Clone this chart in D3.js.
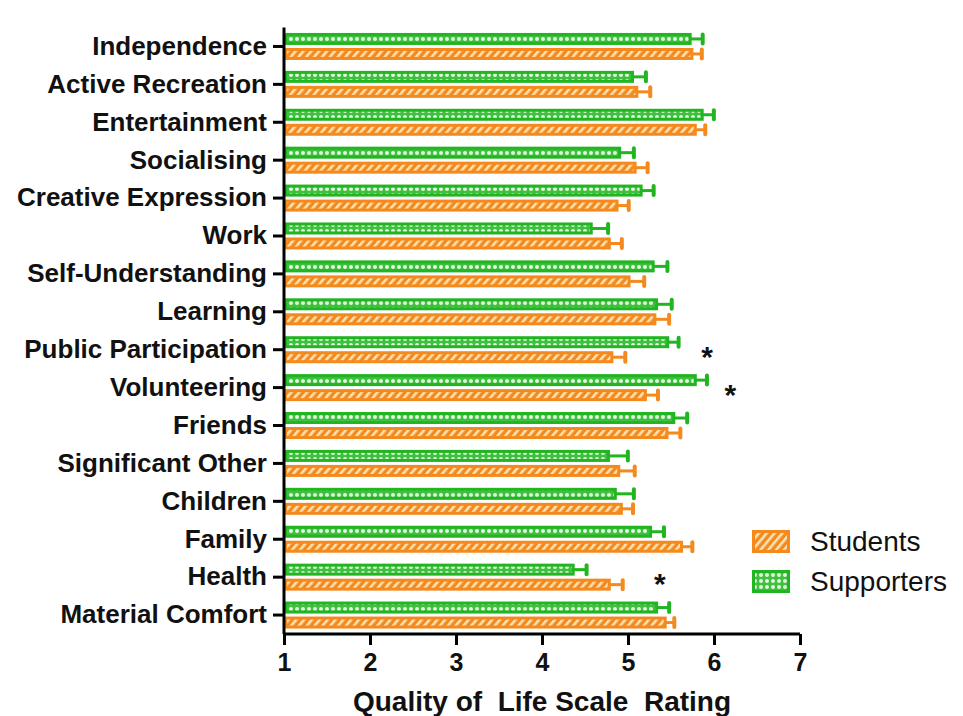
<!DOCTYPE html>
<html>
<head>
<meta charset="utf-8">
<script src="https://cdnjs.cloudflare.com/ajax/libs/d3/7.8.5/d3.min.js"></script>
<style>
body { margin: 0; background: #fff; }
text { font-family: "Liberation Sans", Arial, sans-serif; }
</style>
</head>
<body>
<script>
// data
var categories = ["Independence", "Active Recreation", "Entertainment", "Socialising",
    "Creative Expression", "Work", "Self-Understanding", "Learning", "Public Participation",
    "Volunteering", "Friends", "Significant Other", "Children", "Family", "Health", "Material Comfort"];
var students = [5.76, 5.12, 5.80, 5.10, 4.89, 4.80, 5.03, 5.33, 4.83, 5.22, 5.47, 4.91, 4.94, 5.64, 4.80, 5.45];
var studentsErr = [0.11, 0.15, 0.11, 0.14, 0.13, 0.14, 0.17, 0.16, 0.15, 0.14, 0.15, 0.18, 0.13, 0.12, 0.15, 0.10];
var supporters = [5.74, 5.07, 5.88, 4.92, 5.17, 4.59, 5.31, 5.35, 5.48, 5.80, 5.55, 4.79, 4.87, 5.28, 4.38, 5.35];
var supportersErr = [0.14, 0.15, 0.13, 0.16, 0.14, 0.19, 0.16, 0.17, 0.12, 0.13, 0.15, 0.22, 0.21, 0.15, 0.15, 0.14];
var xTicks = [1, 2, 3, 4, 5, 6, 7];
var stars = [
    { category: "Public Participation", value: 5.92 },
    { category: "Volunteering", value: 6.19 },
    { category: "Health", value: 5.37 }
];
var seriesNames = ["Students", "Supporters"];

var green = "#22b522";
var orange = "#f48a1e";

var svg = d3.select("body")
    .append("svg")
    .attr("width", 963)
    .attr("height", 716);

// patterns
var defs = svg.append("defs");
var hatch = defs.append("pattern")
    .attr("id", "hatch")
    .attr("patternUnits", "userSpaceOnUse")
    .attr("width", 6).attr("height", 6)
    .attr("patternTransform", "rotate(40)");
hatch.append("rect").attr("width", 6).attr("height", 6).attr("fill", orange);
hatch.append("rect").attr("width", 2.6).attr("height", 6).attr("fill", "#fde2b4");

var dots = defs.append("pattern")
    .attr("id", "dots")
    .attr("patternUnits", "userSpaceOnUse")
    .attr("width", 6).attr("height", 6);
dots.append("rect").attr("width", 6).attr("height", 6).attr("fill", "#3fc03f");
dots.append("circle").attr("cx", 3).attr("cy", 3).attr("r", 2).attr("fill", "#dff7da");

// scales
var x = d3.scaleLinear().domain([1, 7]).range([284, 800]);
var y = d3.scaleBand().domain(categories).range([27.5, 634]);

var groups = [
    { name: "Supporters", values: supporters, err: supportersErr, color: green, fill: "url(#dots)", off: -13.5 },
    { name: "Students", values: students, err: studentsErr, color: orange, fill: "url(#hatch)", off: 1.5 }
];

groups.forEach(function (g) {
    var bh = 12;
    // error bars
    var eb = svg.append("g");
    eb.selectAll("line.e")
        .data(categories)
        .enter().append("line")
        .attr("x1", function (d, i) { return x(g.values[i]) - 2; })
        .attr("x2", function (d, i) { return x(g.values[i] + g.err[i]); })
        .attr("y1", function (d) { return y(d) + y.bandwidth() / 2 + g.off + bh / 2; })
        .attr("y2", function (d) { return y(d) + y.bandwidth() / 2 + g.off + bh / 2; })
        .attr("stroke", g.color)
        .attr("stroke-width", 3);
    eb.selectAll("line.c")
        .data(categories)
        .enter().append("line")
        .attr("x1", function (d, i) { return x(g.values[i] + g.err[i]) - 1; })
        .attr("x2", function (d, i) { return x(g.values[i] + g.err[i]) - 1; })
        .attr("y1", function (d) { return y(d) + y.bandwidth() / 2 + g.off + 1.5; })
        .attr("y2", function (d) { return y(d) + y.bandwidth() / 2 + g.off + bh - 1.5; })
        .attr("stroke", g.color)
        .attr("stroke-width", 4)
        .attr("stroke-linecap", "round");

    // bars
    svg.append("g").selectAll("rect")
        .data(categories)
        .enter().append("rect")
        .attr("x", x(1) + 1.5)
        .attr("y", function (d) { return y(d) + y.bandwidth() / 2 + g.off + 1.5; })
        .attr("width", function (d, i) { return x(g.values[i]) - x(1) - 3; })
        .attr("height", bh - 3)
        .attr("fill", g.fill)
        .attr("stroke", g.color)
        .attr("stroke-width", 3);
});

// axes
var xAxis = svg.append("g")
    .attr("transform", "translate(0,634)")
    .call(d3.axisBottom(x).tickValues(xTicks).tickFormat(d3.format("d")).tickSize(11).tickPadding(8));
var yAxis = svg.append("g")
    .attr("transform", "translate(284,0)")
    .call(d3.axisLeft(y).tickSize(11).tickPadding(6));

[xAxis, yAxis].forEach(function (a) {
    a.select(".domain").attr("stroke", "#000").attr("stroke-width", 3);
    a.selectAll(".tick line").attr("stroke", "#000").attr("stroke-width", 3);
    a.selectAll(".tick text")
        .attr("fill", "#111")
        .style("font-family", "'Liberation Sans', Arial, sans-serif")
        .style("font-weight", "bold")
        .style("font-size", "26px");
});
xAxis.selectAll(".tick text").style("font-size", "25px");
xAxis.select(".domain").attr("d", "M" + x(1) + ",0H" + x(7));
yAxis.select(".domain").attr("d", "M0,27.5V634");

// x title
svg.append("text")
    .attr("x", 542)
    .attr("y", 711)
    .attr("text-anchor", "middle")
    .attr("font-weight", "bold")
    .attr("font-size", 28)
    .attr("fill", "#111")
    .style("white-space", "pre")
    .text("Quality of  Life Scale  Rating");

// significance stars
svg.selectAll("text.star")
    .data(stars)
    .enter().append("text")
    .attr("class", "star")
    .attr("x", function (d) { return x(d.value); })
    .attr("y", function (d) { return y(d.category) + y.bandwidth() / 2 + 17; })
    .attr("text-anchor", "middle")
    .attr("font-size", 30)
    .attr("font-weight", "bold")
    .attr("fill", "#111")
    .text("*");

// legend
var legend = svg.append("g").attr("transform", "translate(752,530)");
var legFill = { "Students": ["url(#hatch)", orange], "Supporters": ["url(#dots)", green] };
seriesNames.forEach(function (s, i) {
    legend.append("rect")
        .attr("x", 1.5).attr("y", i * 40 + 1.5)
        .attr("width", 35).attr("height", 20)
        .attr("fill", legFill[s][0])
        .attr("stroke", legFill[s][1])
        .attr("stroke-width", 3);
    legend.append("text")
        .attr("x", 58).attr("y", i * 40 + 21)
        .attr("font-size", 28)
        .attr("fill", "#111")
        .text(s);
});
</script>
</body>
</html>
